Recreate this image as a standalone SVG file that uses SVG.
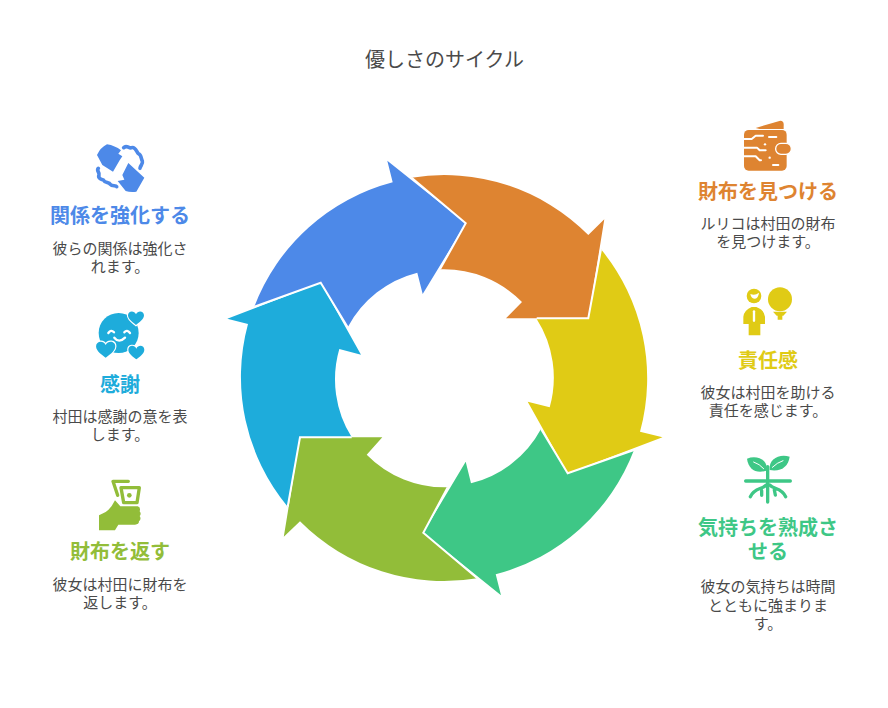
<svg xmlns="http://www.w3.org/2000/svg" width="888" height="708" viewBox="0 0 888 708">
<style>
text{font-family:"Noto Sans CJK JP","Noto Sans",sans-serif;text-anchor:middle}
.t{font-size:20px;fill:#4a4a4a}
.h{font-size:20px;font-weight:700}
.d{font-size:15px;fill:#4a4a4a}
.sep{fill:none;stroke:#fff;stroke-width:2}
.w{fill:none;stroke:#fff;stroke-linecap:round;stroke-linejoin:round}
.ln{fill:none;stroke-linecap:round;stroke-linejoin:round}
</style>
<defs>
<path id="heart" d="M0 22C-8 15-24 6-24-7C-24-20-6-23 0-10C6-23 24-20 24-7C24 6 8 15 0 22Z"/>
</defs>
<rect width="888" height="708" fill="#fff"/>
<text class="t" x="444.5" y="67">優しさのサイクル</text>
<g id="cycle">
<path fill="#DE8431" d="M411.7 177.7A203 203 0 0 1 588.3 235L604.3 219.3L588.3 318.3H506L522 302A109 109 0 0 0 440 269.3L465.7 223.3Z"/>
<path fill="#E0CB15" d="M601 249.3A203 203 0 0 1 640 431.7L662.5 437.3L567.7 473.3L527.7 401.7L549.7 407.3A109 109 0 0 0 536.7 319L588.3 318.3Z"/>
<path fill="#3EC786" d="M634 450A203 203 0 0 1 495.7 574.3L501 595.3L423.3 532.7L465.7 461.7L471 483.3A109 109 0 0 0 541 429L567.7 473.3Z"/>
<path fill="#92BD39" d="M477.3 578.3A203 203 0 0 1 300 521.3L283.8 536.7L300 437.3H382.3L366.7 454.7A109 109 0 0 0 447.7 487.3L423.3 532.7Z"/>
<path fill="#1EACDB" d="M287.7 506.7A203 203 0 0 1 248 324L227.3 318.7L320.7 282.7L361 354.7L339.3 349A109 109 0 0 0 351.7 437.3L300 437.3Z"/>
<path fill="#4D89E8" d="M254.3 306.7A203 203 0 0 1 392.7 182.3L387.3 160.7L465.7 223.3L422.7 294L417.3 272.7A109 109 0 0 0 347.7 327.3L320.7 282.7Z"/>
<path class="sep" d="M411.7 177.7L465.7 223.3L440 269.3"/>
<path class="sep" d="M601 249.3L588.3 318.3H536.7"/>
<path class="sep" d="M634 450L567.7 473.3L541 429"/>
<path class="sep" d="M477.3 578.3L423.3 532.7L447.7 487.3"/>
<path class="sep" d="M287.7 506.7L300 437.3H351.7"/>
<path class="sep" d="M254.3 306.7L320.7 282.7L347.7 327.3"/>
</g>
<g id="node-wallet">
<g transform="translate(733 115) scale(.3333)" fill="#DE8431">
<path d="M68 39L142 17Q152 17 152 28V42H80Z"/>
<rect x="33" y="45" width="128" height="122" rx="14"/>
<path class="w" stroke-width="6" d="M33 72H56L68 62H90M33 98H72L80 106H98M33 124H68L80 136H84M108 66H130M120 150H136"/>
<circle cx="96" cy="88" r="3.5" fill="#fff"/>
<circle cx="110" cy="128" r="3.5" fill="#fff"/>
<rect x="128" y="85" width="47" height="33" rx="16" stroke="#fff" stroke-width="4"/>
</g>
<text class="h" fill="#DE8431" x="768" y="199">財布を見つける</text>
<text class="d" x="768" y="229">ルリコは村田の財布</text>
<text class="d" x="768" y="247">を見つけます。</text>
</g>
<g id="node-responsibility">
<g transform="translate(733 282) scale(.3333)" fill="#E0CB15">
<circle cx="63" cy="42" r="22"/>
<path fill="#fff" d="M52 36Q66 42 78 32Q76 50 64 50Q54 48 52 36Z"/>
<path d="M31 126V104Q34 84 56 75H70Q94 84 96 104V126H82V160H47V126Z"/>
<path class="w" stroke-width="7" d="M63 88V116"/>
<circle cx="141" cy="52" r="36"/>
<path d="M120 89H162L151 101H148V113H134V101H131Z"/>
</g>
<text class="h" fill="#E0CB15" x="768" y="368">責任感</text>
<text class="d" x="768" y="398">彼女は村田を助ける</text>
<text class="d" x="768" y="416">責任を感じます。</text>
</g>
<g id="node-nurture">
<g transform="translate(733 450) scale(.3333)" fill="#3EC786">
<path d="M42 26C72 14 108 30 100 62C70 72 46 58 42 26Z"/>
<path d="M170 20C140 10 106 26 110 60C144 66 166 50 170 20Z"/>
<g class="ln" stroke="#3EC786">
<path stroke-width="10" d="M104 50V156M38 93H172"/>
<path stroke-width="10" d="M100 105C85 120 66 112 52 140M110 105C125 120 144 112 158 140M86 122V136M124 120L127 135"/>
</g>
<path class="w" stroke-width="3" d="M62 36Q80 42 92 56M150 32Q132 38 118 52"/>
</g>
<text class="h" fill="#3EC786" x="768" y="535">気持ちを熟成さ</text>
<text class="h" fill="#3EC786" x="768" y="559">せる</text>
<text class="d" x="768" y="592">彼女の気持ちは時間</text>
<text class="d" x="768" y="611">とともに強まりま</text>
<text class="d" x="768" y="629">す。</text>
</g>
<g id="node-return">
<g transform="translate(85 472) scale(.3333)" fill="#92BD39">
<path class="ln" stroke="#92BD39" stroke-width="10" d="M130 28L84 28L98 70"/>
<path class="ln" stroke="#92BD39" stroke-width="10" d="M108 47H163L156 92H116Z"/>
<circle cx="133" cy="70" r="7"/>
<path d="M42 130L62 120Q78 110 90 85L106 103H158Q168 106 164 118Q170 125 164 132Q170 142 162 148Q162 158 150 158H100L90 175H42Z"/>
</g>
<text class="h" fill="#92BD39" x="120" y="559">財布を返す</text>
<text class="d" x="120" y="590">彼女は村田に財布を</text>
<text class="d" x="120" y="608">返します。</text>
</g>
<g id="node-gratitude">
<g transform="translate(85 305) scale(.3333)" fill="#1EACDB">
<circle cx="101" cy="84" r="60"/>
<use href="#heart" transform="translate(153 38) scale(1)" stroke="#fff" stroke-width="7" paint-order="stroke"/>
<use href="#heart" transform="translate(62 132) scale(1.2)" stroke="#fff" stroke-width="6" paint-order="stroke"/>
<use href="#heart" transform="translate(154 141) scale(1)" stroke="#fff" stroke-width="7" paint-order="stroke"/>
<path class="w" stroke-width="7" d="M70 84Q78 72 87 82M118 82Q126 72 135 84M88 98Q102 116 120 98"/>
</g>
<text class="h" fill="#1EACDB" x="120" y="392">感謝</text>
<text class="d" x="120" y="422">村田は感謝の意を表</text>
<text class="d" x="120" y="440">します。</text>
</g>
<g id="node-strengthen">
<g transform="translate(85 135) scale(.3333)" fill="#4D89E8">
<path d="M36 60Q46 38 66 28Q90 32 108 46L100 56L112 64L104 76L84 110L52 90Z"/>
<path d="M130 84L178 128L154 170Q135 172 122 168L98 138L118 134L112 120Z"/>
<path class="ln" stroke="#4D89E8" stroke-width="11" d="M116 38C125 28 132 42 140 38C150 34 155 50 160 56C170 60 168 72 172 78C175 88 165 92 165 100"/>
<path class="ln" stroke="#4D89E8" stroke-width="11" d="M40 100C33 108 45 112 42 120C38 130 50 134 55 135C60 145 72 140 76 148C82 155 92 150 95 155"/>
</g>
<text class="h" fill="#4D89E8" x="120" y="223">関係を強化する</text>
<text class="d" x="120" y="254">彼らの関係は強化さ</text>
<text class="d" x="120" y="272">れます。</text>
</g>
</svg>
